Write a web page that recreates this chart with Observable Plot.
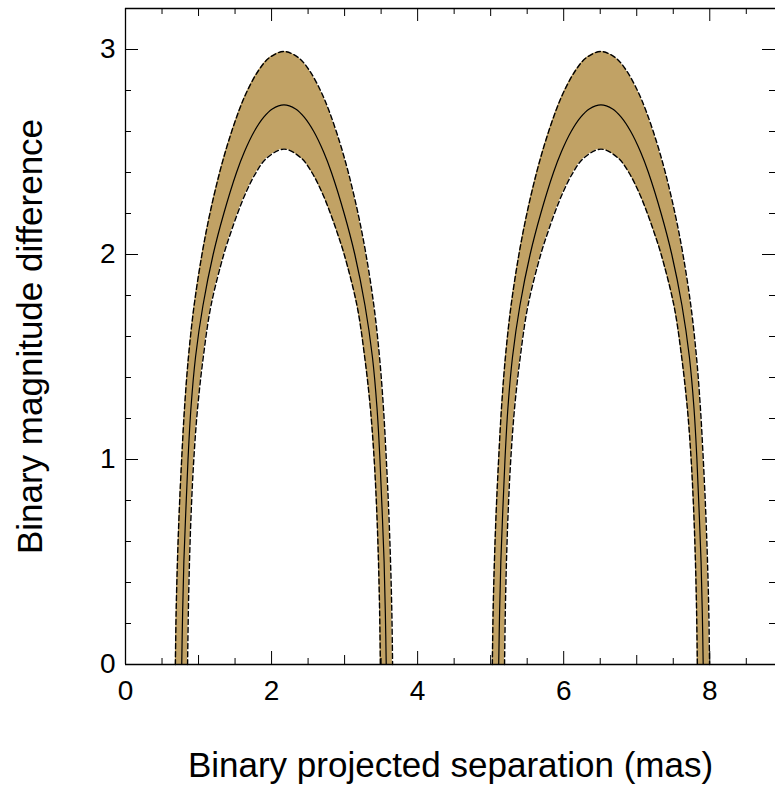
<!DOCTYPE html>
<html>
<head>
<meta charset="utf-8">
<script src="https://cdn.jsdelivr.net/npm/d3@7"></script>
<script src="https://cdn.jsdelivr.net/npm/@observablehq/plot@0.6"></script>
<style>
  html, body { margin: 0; padding: 0; background: #fff; }
  #chart svg { display: block; font-family: "Liberation Sans", Arial, sans-serif; }
</style>
</head>
<body>
<div id="chart"></div>
<script>
// ---- data ----
// Outer (upper) dashed bound
const outerY  = [0,0.25,0.5,0.75,1.0,1.25,1.5,1.75,2.0,2.2,2.4,2.55,2.7,2.8,2.9,2.96,2.99,
                 2.96,2.9,2.8,2.7,2.55,2.4,2.2,2.0,1.75,1.5,1.25,1.0,0.75,0.5,0.25,0];
const outerX1 = [0.683,0.693,0.711,0.736,0.769,0.808,0.862,0.939,1.047,1.156,1.289,1.409,1.552,1.670,1.826,1.971,2.170,
                 2.369,2.514,2.670,2.788,2.931,3.051,3.184,3.293,3.401,3.478,3.532,3.571,3.604,3.629,3.647,3.657];
const outerX2 = [5.023,5.033,5.051,5.076,5.109,5.148,5.202,5.279,5.387,5.496,5.629,5.749,5.892,6.010,6.166,6.311,6.510,
                 6.709,6.854,7.010,7.128,7.271,7.391,7.524,7.633,7.741,7.818,7.872,7.911,7.944,7.969,7.987,7.997];
// Central solid curve
const midY  = [0,0.25,0.5,0.75,1.0,1.25,1.5,1.75,2.0,2.2,2.4,2.5,2.6,2.67,2.71,2.73,
               2.71,2.67,2.6,2.5,2.4,2.2,2.0,1.75,1.5,1.25,1.0,0.75,0.5,0.25,0];
const midX1 = [0.770,0.782,0.799,0.826,0.856,0.896,0.959,1.060,1.200,1.346,1.520,1.627,1.762,1.893,2.010,2.170,
               2.330,2.447,2.578,2.713,2.820,2.994,3.140,3.280,3.381,3.444,3.484,3.514,3.541,3.558,3.570];
const midX2 = [5.110,5.122,5.139,5.166,5.196,5.236,5.299,5.400,5.540,5.686,5.860,5.967,6.102,6.233,6.350,6.510,
               6.670,6.787,6.918,7.053,7.160,7.334,7.480,7.620,7.721,7.784,7.824,7.854,7.881,7.898,7.910];
// Inner (lower) dashed bound
const lowY  = [0,0.25,0.5,0.75,1.0,1.25,1.5,1.75,2.0,2.1,2.2,2.3,2.4,2.47,2.514,
               2.47,2.4,2.3,2.2,2.1,2.0,1.75,1.5,1.25,1.0,0.75,0.5,0.25,0];
const lowX1 = [0.850,0.860,0.876,0.900,0.935,0.987,1.065,1.170,1.345,1.435,1.534,1.646,1.788,1.933,2.170,
               2.407,2.552,2.694,2.806,2.905,2.995,3.170,3.275,3.353,3.405,3.440,3.464,3.480,3.490];
const lowX2 = [5.190,5.200,5.216,5.240,5.275,5.327,5.405,5.510,5.685,5.775,5.874,5.986,6.128,6.273,6.510,
               6.747,6.892,7.034,7.146,7.245,7.335,7.510,7.615,7.693,7.745,7.780,7.804,7.820,7.830];

const xMajor  = [0,2,4,6,8];
const xMedium = [1,3,5,7];
const xMinor  = [0.5,1.5,2.5,3.5,4.5,5.5,6.5,7.5,8.5];
const yMajor  = [0,1,2,3];
const yMinor  = [0.2,0.4,0.6,0.8,1.2,1.4,1.6,1.8,2.2,2.4,2.6,2.8,3.2];
const xTitle = "Binary projected separation (mas)";
const yTitle = "Binary magnitude difference";

// ---- layout ----
const W = 775, H = 788, mL = 125, mR = 0, mT = 8, mB = 124;
const PH = H - mT - mB, PW = W - mL - mR;
const band = "#c1a265";
const curve = "catmull-rom";
const dash = {stroke: "#000", strokeWidth: 1.4, strokeDasharray: "5,3", curve};

const bottomTicks = (vals, len) => Plot.tickX(vals, {x: d => d, insetTop: PH - len, stroke: "#000", strokeWidth: 1});
const topTicks = (vals, len) => Plot.tickX(vals, {x: d => d, insetBottom: PH - len, stroke: "#000", strokeWidth: 1});
const leftTicks = (vals, len) => Plot.tickY(vals, {y: d => d, insetRight: PW - len, stroke: "#000", strokeWidth: 1});
const rightTicks = (vals, len) => Plot.tickY(vals, {y: d => d, insetLeft: PW - len, stroke: "#000", strokeWidth: 1});

const chart = Plot.plot({
  width: W, height: H,
  marginLeft: mL, marginRight: mR, marginTop: mT, marginBottom: mB,
  style: {fontFamily: "'Liberation Sans', Arial, sans-serif", background: "#fff"},
  x: {domain: [0, 8.9], axis: null},
  y: {domain: [0, 3.2], axis: null},
  marks: [
    // shaded bands
    Plot.areaY(outerY, {x: outerX1, y: outerY, fill: band, curve}),
    Plot.areaY(outerY, {x: outerX2, y: outerY, fill: band, curve}),
    Plot.areaY(lowY, {x: lowX1, y: lowY, fill: "#fff", curve}),
    Plot.areaY(lowY, {x: lowX2, y: lowY, fill: "#fff", curve}),
    // ticks (all four sides, inward)
    bottomTicks(xMajor, 13), bottomTicks(xMedium, 9), bottomTicks(xMinor, 6),
    topTicks(xMajor, 13), topTicks(xMedium, 8), topTicks(xMinor, 6),
    leftTicks(yMajor, 13), leftTicks(yMinor, 6),
    rightTicks(yMajor, 13), rightTicks(yMinor, 6),
    // bound curves
    Plot.line(outerY, {x: outerX1, y: outerY, ...dash}),
    Plot.line(outerY, {x: outerX2, y: outerY, ...dash}),
    Plot.line(lowY, {x: lowX1, y: lowY, ...dash}),
    Plot.line(lowY, {x: lowX2, y: lowY, ...dash}),
    Plot.line(midY, {x: midX1, y: midY, stroke: "#000", strokeWidth: 1.2, curve}),
    Plot.line(midY, {x: midX2, y: midY, stroke: "#000", strokeWidth: 1.2, curve}),
    // frame
    Plot.ruleX([0], {stroke: "#000", strokeWidth: 1.3}),
    Plot.ruleY([0], {stroke: "#000", strokeWidth: 1.3}),
    Plot.ruleY([3.2], {stroke: "#000", strokeWidth: 1.3}),
    // tick labels
    Plot.axisX({ticks: xMajor, tickSize: 0, tickPadding: 16, fontSize: 28, tickFormat: d => String(d), label: null}),
    Plot.axisY({ticks: yMajor, tickSize: 0, tickPadding: 10, fontSize: 28, tickFormat: d => String(d), label: null}),
    // axis titles
    Plot.text([xTitle], {frameAnchor: "bottom", dy: 101, fontSize: 35, textAnchor: "middle", lineAnchor: "middle", fill: "#000"}),
    Plot.text([yTitle], {frameAnchor: "left", dx: -95, rotate: -90, fontSize: 35, textAnchor: "middle", lineAnchor: "middle", fill: "#000"})
  ]
});
document.getElementById("chart").appendChild(chart);
</script>
</body>
</html>
